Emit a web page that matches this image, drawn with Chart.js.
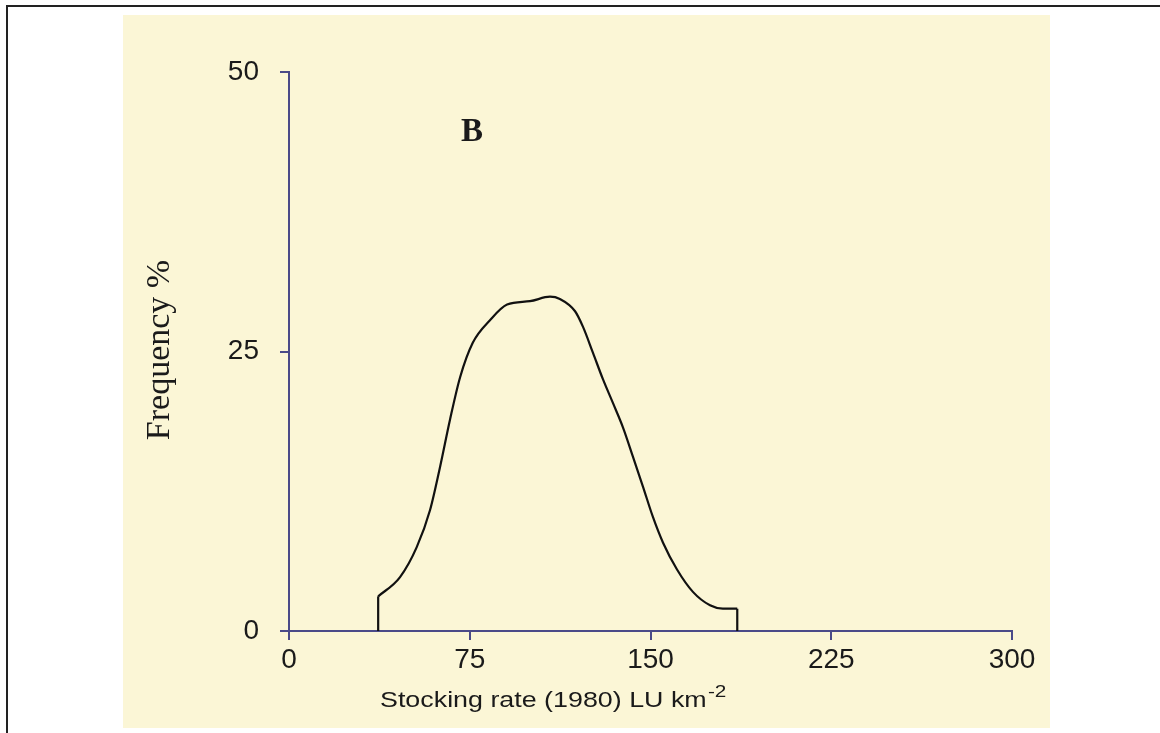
<!DOCTYPE html>
<html>
<head>
<meta charset="utf-8">
<script src="https://cdn.jsdelivr.net/npm/chart.js@4"></script>
<style>
  html, body { margin: 0; padding: 0; background: #fff; }
  #wrap { width: 1160px; height: 733px; }
</style>
</head>
<body>
<div id="wrap"><canvas id="freqChart" width="1160" height="733"></canvas></div>
<script>
// values (stocking rate LU/km2 vs frequency %)
const stockRate = [37, 46, 53, 58.5, 62.7, 66.8, 71, 76.3, 83.4, 90.5, 100, 108.3, 112.4, 118.7, 122, 126.1, 130.3, 134.4, 138.6, 142.7, 146.9, 151, 155.2, 161, 167.6, 174.7, 180, 186];
const frequency = [3.1, 4.8, 7.5, 10.8, 14.7, 18.9, 22.7, 25.8, 27.8, 29.2, 29.5, 29.9, 29.7, 28.6, 27.2, 24.9, 22.5, 20.4, 18.2, 15.6, 12.9, 10.2, 7.9, 5.5, 3.5, 2.3, 2.0, 2.0];
// vertical edges at both ends of the distribution
const leftEdge = [37, 37];
const leftEdgeFreq = [0, 3.1];
const rightEdge = [186, 186];
const rightEdgeFreq = [2.0, 0];

const xTicks = [0, 75, 150, 225, 300];
const yTicks = [0, 25, 50];

const axisColor = "#4a4a88";
const inkColor = "#1a1a1a";

function toPoints(xs, ys) {
  return xs.map((x, i) => ({ x: x, y: ys[i] }));
}

const backdrop = {
  id: "backdrop",
  beforeDraw(chart) {
    const c = chart.ctx;
    c.save();
    c.fillStyle = "#ffffff";
    c.fillRect(0, 0, chart.width, chart.height);
    c.fillStyle = "#fbf6d6";
    c.fillRect(123, 15, 927, 713);
    c.strokeStyle = "#222";
    c.lineWidth = 2;
    c.beginPath();
    c.moveTo(7, 733);
    c.lineTo(7, 6);
    c.lineTo(1160, 6);
    c.stroke();
    c.restore();
  },
  afterDraw(chart) {
    const c = chart.ctx;
    c.save();
    c.fillStyle = inkColor;
    // y title
    c.save();
    c.translate(160, 350);
    c.rotate(-Math.PI / 2);
    c.font = "34px 'Liberation Serif'";
    c.textAlign = "center";
    c.textBaseline = "middle";
    c.fillText("Frequency %", 0, 0);
    c.restore();
    // x title with superscript
    c.save();
    c.translate(380, 707);
    c.scale(1.22, 1);
    c.font = "22px 'Liberation Sans'";
    c.textAlign = "left";
    c.textBaseline = "alphabetic";
    const main = "Stocking rate (1980) LU km";
    c.fillText(main, 0, 0);
    const w = c.measureText(main).width;
    c.font = "17px 'Liberation Sans'";
    c.fillText("-2", w + 1, -10);
    c.restore();
    // panel letter
    c.font = "bold 33px 'Liberation Serif'";
    c.textAlign = "center";
    c.textBaseline = "middle";
    c.fillText("B", 472, 132);
    c.restore();
  }
};

const lineStyle = {
  showLine: true,
  borderColor: "#111",
  borderWidth: 2.2,
  pointRadius: 0,
  fill: false
};

new Chart(document.getElementById("freqChart").getContext("2d"), {
  type: "scatter",
  data: {
    datasets: [
      Object.assign({ data: toPoints(stockRate, frequency), cubicInterpolationMode: "monotone" }, lineStyle),
      Object.assign({ data: toPoints(leftEdge, leftEdgeFreq), tension: 0 }, lineStyle),
      Object.assign({ data: toPoints(rightEdge, rightEdgeFreq), tension: 0 }, lineStyle)
    ]
  },
  options: {
    responsive: false,
    animation: false,
    layout: { padding: { left: 0, right: 148, top: 72, bottom: 0 } },
    plugins: { legend: { display: false }, tooltip: { enabled: false } },
    scales: {
      x: {
        type: "linear",
        min: 0,
        max: 300,
        afterFit(scale) { scale.height = 102; },
        afterBuildTicks(scale) { scale.ticks = xTicks.map(v => ({ value: v })); },
        border: { display: true, color: axisColor, width: 2 },
        grid: { drawOnChartArea: false, drawTicks: true, tickLength: 9, color: axisColor, lineWidth: 2 },
        ticks: { color: inkColor, padding: 3, maxRotation: 0, font: { family: "'Liberation Sans'", size: 28 } }
      },
      y: {
        type: "linear",
        min: 0,
        max: 50,
        afterFit(scale) { scale.width = 289; },
        afterBuildTicks(scale) { scale.ticks = yTicks.map(v => ({ value: v })); },
        border: { display: true, color: axisColor, width: 2 },
        grid: { drawOnChartArea: false, drawTicks: true, tickLength: 9, color: axisColor, lineWidth: 2 },
        ticks: { color: inkColor, padding: 21, font: { family: "'Liberation Sans'", size: 28 } }
      }
    }
  },
  plugins: [backdrop]
});
</script>
</body>
</html>
